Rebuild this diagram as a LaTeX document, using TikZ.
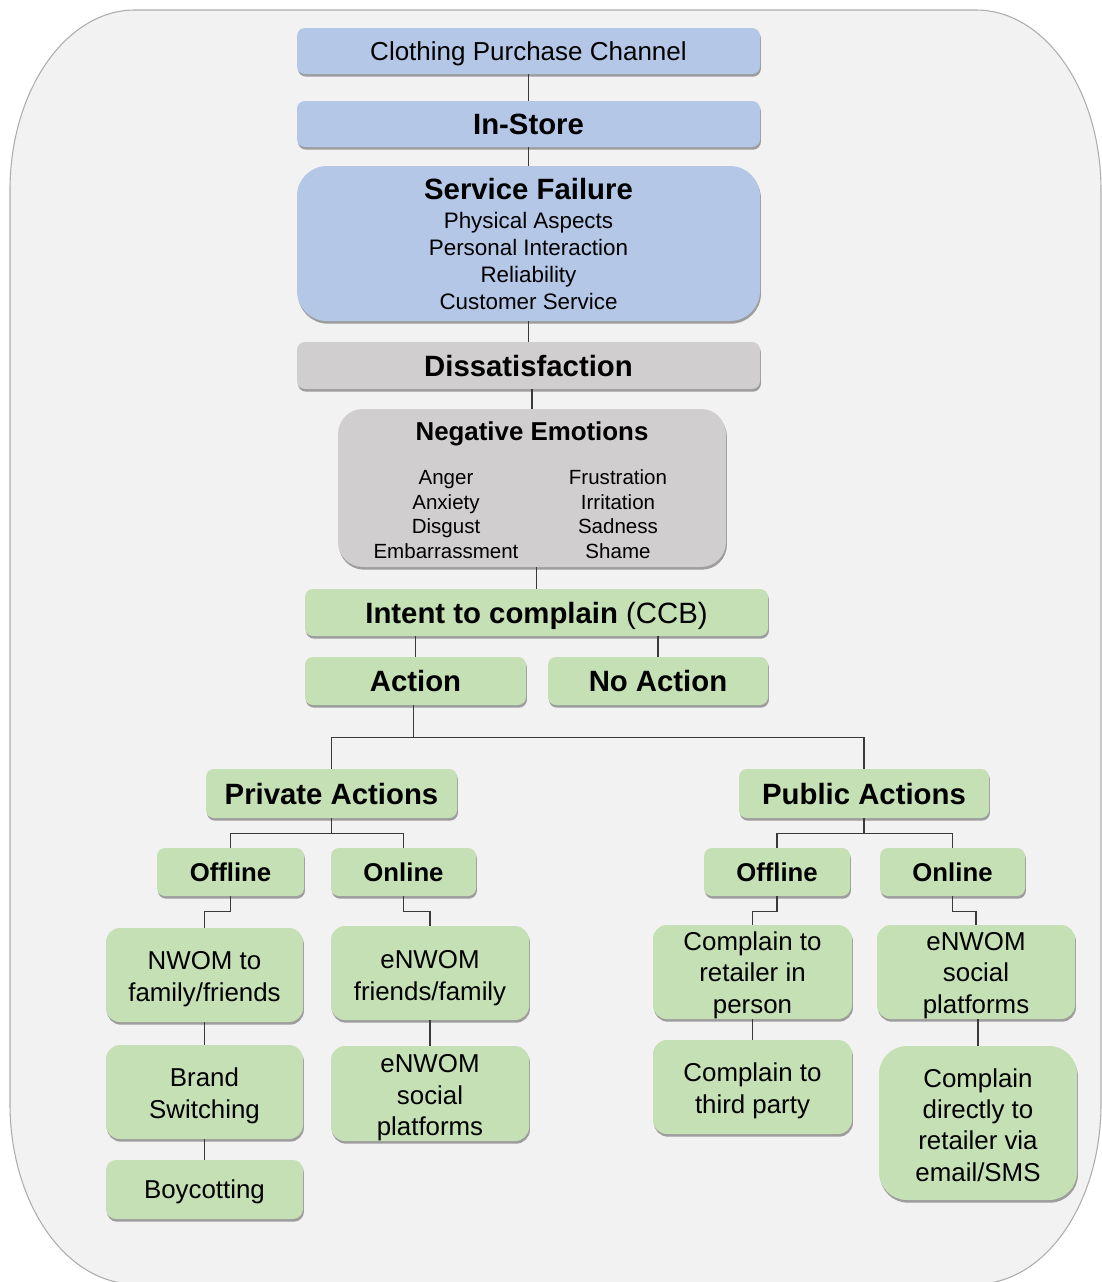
\documentclass[tikz,border=0pt]{standalone}
\usepackage{fontspec}
\setmainfont{Liberation Sans}
\usetikzlibrary{shadows,calc}
\definecolor{bluebox}{HTML}{B4C7E7}
\definecolor{graybox}{HTML}{D0CECE}
\definecolor{greenbox}{HTML}{C5E0B4}
\definecolor{bgfill}{HTML}{F2F2F2}
\definecolor{bgline}{HTML}{ADADAD}
\definecolor{conn}{HTML}{3A3A3A}
\newcommand\fCPC{\fontsize{19.5}{23}\selectfont}
\newcommand\fBig{\fontsize{22}{25}\selectfont\bfseries}
\newcommand\fSub{\fontsize{16.8}{20.25}\selectfont}
\newcommand\fNE{\fontsize{19.4}{22}\selectfont\bfseries}
\newcommand\fEmo{\fontsize{15.4}{18.4}\selectfont}
\newcommand\fMid{\fontsize{19.3}{23}\selectfont\bfseries}
\newcommand\fLeaf{\fontsize{19.4}{23.6}\selectfont}
\newcommand\tp[1]{\rule{0pt}{#1}}
\tikzset{
  box/.style={inner sep=0pt, align=center,
    drop shadow={shadow xshift=0.7pt, shadow yshift=-2pt, opacity=0.35, fill=black}},
  wh/.style 2 args={minimum width=#1*0.75pt, minimum height=#2*0.75pt},
  rc/.style={rounded corners=#1*0.75pt},
  bbox/.style={box, fill=bluebox},
  gybox/.style={box, fill=graybox},
  grbox/.style={box, fill=greenbox},
  oneline/.style={text height=#1, text depth=0pt},
  link/.style={draw=conn, line width=0.95pt},
}
\begin{document}
\begin{tikzpicture}[x=0.75pt,y=-0.75pt]
\useasboundingbox (0,0) rectangle (1102,1282);
% background panel
\path[fill=bgfill, draw=bgline, line width=0.8pt]
  (10,190) .. controls (10,90.6) and (66,10) .. (135,10)
  -- (976,10) .. controls (1045,10) and (1101,90.6) .. (1101,190)
  -- (1101,1104) .. controls (1101,1203.4) and (1045,1284) .. (976,1284)
  -- (135,1284) .. controls (66,1284) and (10,1203.4) .. (10,1104) -- cycle;

% top column
\node[bbox, wh={463}{46}, rc=8, oneline=14pt, font=\fCPC] (cpc) at (528.5,51) {Clothing Purchase Channel};
\node[bbox, wh={463}{46}, rc=8, oneline=15.75pt, font=\fBig] (instore) at (528.5,124) {In-Store};
\node[bbox, wh={463}{155}, rc=30, font=\fSub] (sf) at (528.5,243.5)
  {{\fBig Service Failure}\\[1.5pt]Physical Aspects\\Personal Interaction\\Reliability\\Customer Service};
\node[gybox, wh={463}{47}, rc=8, oneline=15.75pt, font=\fBig] (dis) at (528.5,365.5) {Dissatisfaction};
\node[gybox, wh={388}{158}, rc=25, font=\fEmo] (ne) at (532,488)
  {{\fNE\tp{23pt}Negative Emotions}\\[14.6pt]%
   \makebox[129pt][c]{\begin{tabular}[t]{@{}c@{}}Anger\\Anxiety\\Disgust\\Embarrassment\end{tabular}}%
   \makebox[129pt][c]{\begin{tabular}[t]{@{}c@{}}Frustration\\Irritation\\Sadness\\Shame\end{tabular}}};
\node[grbox, wh={463}{47}, rc=8, oneline=15.75pt, font=\fBig] (intent) at (536.5,612.5)
  {Intent to complain {\mdseries (CCB)}};
\node[grbox, wh={221}{48}, rc=8, oneline=15.75pt, font=\fBig] (action) at (415.5,681) {Action};
\node[grbox, wh={220}{48}, rc=8, oneline=15.75pt, font=\fBig] (noaction) at (658,681) {No Action};

% second level
\node[grbox, wh={251}{49}, rc=8, oneline=15.75pt, font=\fBig] (priv) at (331.5,793.5) {Private Actions};
\node[grbox, wh={250}{49}, rc=8, oneline=15.75pt, font=\fBig] (pub) at (864,793.5) {Public Actions};
\node[grbox, wh={147}{48}, rc=8, oneline=13.8pt, font=\fMid] (offA) at (230.5,872) {Offline};
\node[grbox, wh={145}{48}, rc=8, oneline=13.8pt, font=\fMid] (onA) at (403.5,872) {Online};
\node[grbox, wh={146}{48}, rc=8, oneline=13.8pt, font=\fMid] (offB) at (777,872) {Offline};
\node[grbox, wh={145}{48}, rc=8, oneline=13.8pt, font=\fMid] (onB) at (952.5,872) {Online};

% leaves
\node[grbox, wh={197}{94}, rc=14, font=\fLeaf] (nwom) at (204.5,975) {\tp{20pt}NWOM to\\family/friends};
\node[grbox, wh={197}{94}, rc=14, font=\fLeaf] (brand) at (204.5,1092) {\tp{20pt}Brand\\Switching};
\node[grbox, wh={197}{59}, rc=10, oneline=13.9pt, font=\fLeaf] (boy) at (204.5,1189.5) {Boycotting};
\node[grbox, wh={198}{94}, rc=14, font=\fLeaf] (enwomA) at (430,973) {\tp{21pt}eNWOM\\friends/family};
\node[grbox, wh={198}{95}, rc=14, font=\fLeaf] (socialA) at (430,1093.5) {\tp{20pt}eNWOM\\social\\platforms};
\node[grbox, wh={199}{94}, rc=14, font=\fLeaf] (retail) at (752.5,972) {\tp{18.5pt}Complain to\\retailer in\\person};
\node[grbox, wh={199}{94}, rc=14, font=\fLeaf] (third) at (752.5,1087) {\tp{20pt}Complain to\\third party};
\node[grbox, wh={198}{94}, rc=14, font=\fLeaf] (socialB) at (976,972) {\tp{18.5pt}eNWOM\\social\\platforms};
\node[grbox, wh={198}{154}, rc=28, font=\fLeaf] (direct) at (978,1123) {\tp{17pt}Complain\\directly to\\retailer via\\email/SMS};

% connectors
\draw[link] (cpc.south) -- (instore.north);
\draw[link] (instore.south) -- (sf.north);
\draw[link] (sf.south) -- (dis.north);
\draw[link] (ne.north |- dis.south) -- (ne.north);
\draw[link] (intent.north |- ne.south) -- (intent.north);
\draw[link] (action.north |- intent.south) -- (action.north);
\draw[link] (noaction.north |- intent.south) -- (noaction.north);

\coordinate (j1) at ($(action.south)+(-2,32)$);
\draw[link] (action.south -| j1) -- (j1);
\draw[link] (priv.north) |- (j1) -| (pub.north);

\coordinate (j2) at ($(priv.south)+(0,15)$);
\draw[link] (priv.south) -- (j2);
\draw[link] (offA.north) |- (j2) -| (onA.north);

\coordinate (j3) at ($(pub.south)+(0,15)$);
\draw[link] (pub.south) -- (j3);
\draw[link] (offB.north) |- (j3) -| (onB.north);

\draw[link] (offA.south) -- ++(0,15) -| (nwom.north);
\draw[link] (onA.south) -- ++(0,15) -| (enwomA.north);
\draw[link] (offB.south) -- ++(0,15) -| (retail.north);
\draw[link] (onB.south) -- ++(0,15) -| (socialB.north);

\draw[link] (nwom.south) -- (brand.north);
\draw[link] (brand.south) -- (boy.north);
\draw[link] (enwomA.south) -- (socialA.north);
\draw[link] (retail.south) -- (third.north);
\draw[link] (direct.north |- socialB.south) -- (direct.north);
\end{tikzpicture}
\end{document}
